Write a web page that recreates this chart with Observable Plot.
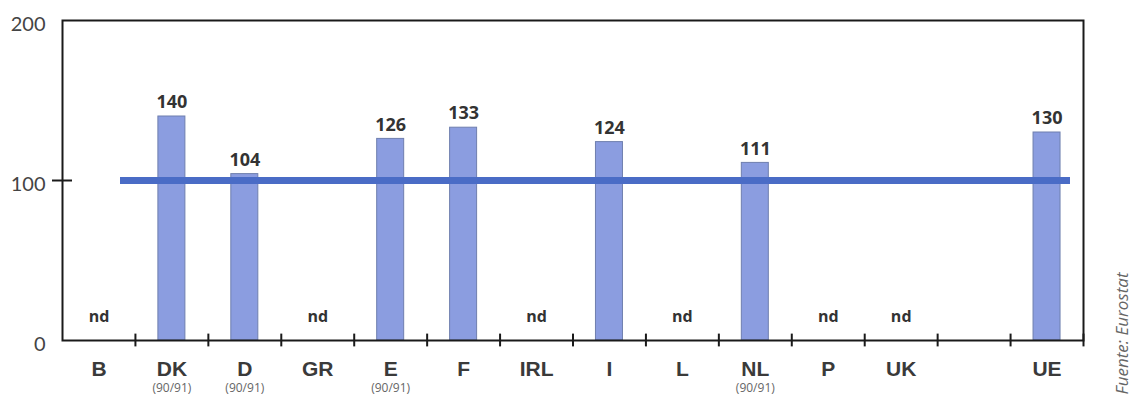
<!DOCTYPE html>
<html>
<head>
<meta charset="utf-8">
<script src="https://cdn.jsdelivr.net/npm/d3@7"></script>
<script src="https://cdn.jsdelivr.net/npm/@observablehq/plot@0.6"></script>
<style>
  html, body { margin: 0; padding: 0; background: #fff; }
  #chart svg { display: block; }
</style>
</head>
<body>
<div id="chart"></div>
<script>
// ---- data ----
const categories = ["B", "DK", "D", "GR", "E", "F", "IRL", "I", "L", "NL", "P", "UK", " ", "UE"];
const values     = [null, 140, 104, null, 126, 133, null, 124, null, 111, null, null, null, 130];
const subLabels  = ["", "(90/91)", "(90/91)", "", "(90/91)", "", "", "", "", "(90/91)", "", "", "", ""];
const yTicks = [0, 100, 200];
const referenceValue = 100;
const missingLabel = "nd";
const sourceText = "Fuente: Eurostat";

const rows = categories.map((c, i) => ({cat: c, value: values[i], sub: subLabels[i]}));
const bars = rows.filter(d => d.value != null);
const missing = rows.filter(d => d.value == null && d.cat.trim() !== "");

const W = 1134, H = 399;
const mL = 62, mR = 51, mT = 20, mB = 59;
const innerW = W - mL - mR;
const band = innerW / categories.length;

const chart = Plot.plot({
  width: W,
  height: H,
  marginLeft: mL,
  marginRight: mR,
  marginTop: mT,
  marginBottom: mB,
  style: {background: "#fff", overflow: "visible"},
  x: {type: "band", domain: categories, padding: 0, round: false, axis: null},
  y: {domain: [0, 200], axis: null},
  marks: [
    // bars
    Plot.barY(bars, {x: "cat", y: "value", fill: "#8b9de0", stroke: "#6f7fae", strokeWidth: 1,
      insetLeft: band / 2 - 13.5, insetRight: band / 2 - 13.5}),
    // reference line at 100
    Plot.ruleY([referenceValue], {stroke: "#4a6cc6", strokeWidth: 7, insetLeft: 58, insetRight: 13}),
    // frame
    Plot.frame({stroke: "#1a1a1a", strokeWidth: 2}),
    // x boundary ticks (right edge of every band)
    Plot.ruleX(categories, {x: d => d, dx: band / 2, y1: -4, y2: 4, stroke: "#1a1a1a", strokeWidth: 2}),
    // y tick at 100 crossing the frame
    Plot.ruleY([referenceValue], {y: d => d, dx: -10, insetRight: innerW - 20, stroke: "#1a1a1a", strokeWidth: 2}),
    // y tick labels
    Plot.text(yTicks, {y: d => d, frameAnchor: "left", dx: -17, dy: 4, textAnchor: "end", text: d => String(d),
      fontSize: 20, fontFamily: "Lato", fill: "#444"}),
    // value labels
    Plot.text(bars, {x: "cat", y: "value", dy: -14, text: d => String(d.value),
      fontSize: 18, fontWeight: "bold", fontFamily: "Open Sans", fill: "#333"}),
    // nd labels
    Plot.text(missing, {x: "cat", y: 0, dy: -24, text: () => missingLabel,
      fontSize: 16, fontWeight: "bold", fontFamily: "Open Sans", fill: "#333"}),
    // category labels
    Plot.text(rows, {x: "cat", y: 0, dy: 29, text: "cat",
      fontSize: 21, fontWeight: "bold", fontFamily: "Liberation Sans", fill: "#3a3a3a"}),
    // sub labels
    Plot.text(rows.filter(d => d.sub), {x: "cat", y: 0, dy: 48, text: "sub",
      fontSize: 12, fontFamily: "Open Sans", fill: "#666"}),
    // source
    Plot.text([sourceText], {frameAnchor: "right", dx: 39, dy: 92, rotate: -90, text: d => d,
      fontSize: 17, fontStyle: "italic", fontFamily: "Open Sans", fill: "#666"})
  ]
});
document.getElementById("chart").appendChild(chart);
</script>
</body>
</html>
